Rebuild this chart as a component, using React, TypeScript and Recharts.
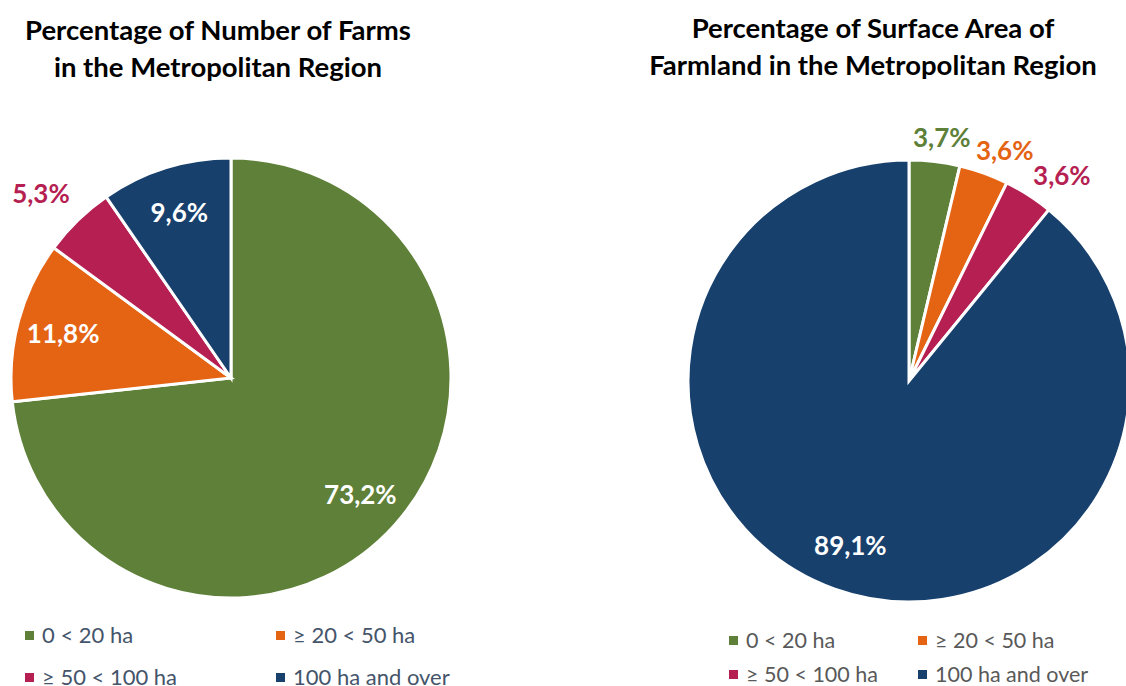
import { PieChart, Pie, Cell } from "recharts";

const sizeClasses = ["0 < 20 ha", "≥ 20 < 50 ha", "≥ 50 < 100 ha", "100 ha and over"];
const farmShares = [73.2, 11.8, 5.3, 9.6];
const areaShares = [3.7, 3.6, 3.6, 89.1];

const COLORS = ["#5E8038", "#E46414", "#B51F52", "#17406D"];
const FONT = "Lato, 'Open Sans', sans-serif";
const RADIAN = Math.PI / 180;
const NO_MARGIN = { top: 0, right: 0, bottom: 0, left: 0 };

const fmt = (v: number) => v.toFixed(1).replace(".", ",") + "%";

// small slices get their label outside, pushed sideways a bit like Excel does
function makeLabel(small: number, outFactor: number, push: number) {
  return (props: any) => {
    const { cx, cy, midAngle, outerRadius, index, value } = props;
    const outside = value < small;
    const r = outside ? outerRadius * outFactor : outerRadius * 0.79;
    const cos = Math.cos(-midAngle * RADIAN);
    const sin = Math.sin(-midAngle * RADIAN);
    const x = cx + r * cos + (outside ? 62 * push * cos : 0);
    const y = cy + r * sin;
    return (
      <text
        x={x}
        y={y}
        textAnchor="middle"
        dominantBaseline="central"
        fill={outside ? COLORS[index] : "#fff"}
        style={{ fontFamily: FONT, fontWeight: 700, fontSize: 26 }}
      >
        {fmt(value)}
      </text>
    );
  };
}

function Legend({ left, top, colX, rowGap, color, size }: any) {
  return (
    <div style={{ position: "absolute", left, top, fontFamily: FONT, fontSize: size, color }}>
      {sizeClasses.map((name, i) => (
        <div
          key={name}
          style={{
            position: "absolute",
            left: (i % 2) * colX,
            top: Math.floor(i / 2) * rowGap,
            whiteSpace: "nowrap",
            display: "flex",
            alignItems: "center",
            lineHeight: "24px",
          }}
        >
          <span style={{ width: 9, height: 9, background: COLORS[i], marginRight: 8, display: "inline-block" }} />
          {name}
        </div>
      ))}
    </div>
  );
}

const titleStyle: any = {
  position: "absolute",
  fontFamily: FONT,
  fontWeight: 700,
  fontSize: 27.5,
  lineHeight: "37px",
  textAlign: "center",
  color: "#000",
};

export default function App() {
  const farmData = sizeClasses.map((name, i) => ({ name, value: farmShares[i] }));
  const areaData = sizeClasses.map((name, i) => ({ name, value: areaShares[i] }));

  return (
    <div style={{ position: "absolute", left: 0, top: 0, width: 1126, height: 686, background: "#fff", overflow: "hidden" }}>
      <div style={{ ...titleStyle, left: 0, top: 11, width: 436 }}>
        Percentage of Number of Farms
        <br />
        in the Metropolitan Region
      </div>
      <div style={{ ...titleStyle, left: 620, top: 9, width: 506 }}>
        Percentage of Surface Area of
        <br />
        Farmland in the Metropolitan Region
      </div>

      <div style={{ position: "absolute", left: 0, top: 0 }}>
        <PieChart width={563} height={686} margin={NO_MARGIN}>
          <Pie
            data={farmData}
            dataKey="value"
            cx={231}
            cy={378}
            outerRadius={220}
            startAngle={90}
            endAngle={-270}
            stroke="#fff"
            strokeWidth={3}
            label={makeLabel(6, 1.17, 0.25)}
            labelLine={false}
            isAnimationActive={false}
          >
            {farmData.map((d, i) => (
              <Cell key={d.name} fill={COLORS[i]} />
            ))}
          </Pie>
        </PieChart>
      </div>

      <div style={{ position: "absolute", left: 563, top: 0 }}>
        <PieChart width={563} height={686} margin={NO_MARGIN}>
          <Pie
            data={areaData}
            dataKey="value"
            cx={346}
            cy={381}
            outerRadius={221}
            startAngle={90}
            endAngle={-270}
            stroke="#fff"
            strokeWidth={3}
            label={makeLabel(6, 1.11, 0.6)}
            labelLine={false}
            isAnimationActive={false}
          >
            {areaData.map((d, i) => (
              <Cell key={d.name} fill={COLORS[i]} />
            ))}
          </Pie>
        </PieChart>
      </div>

      <Legend left={25} top={623} colX={251} rowGap={42} color="#44546A" size={22} />
      <Legend left={729} top={628} colX={189} rowGap={34} color="#595959" size={21.5} />
    </div>
  );
}
